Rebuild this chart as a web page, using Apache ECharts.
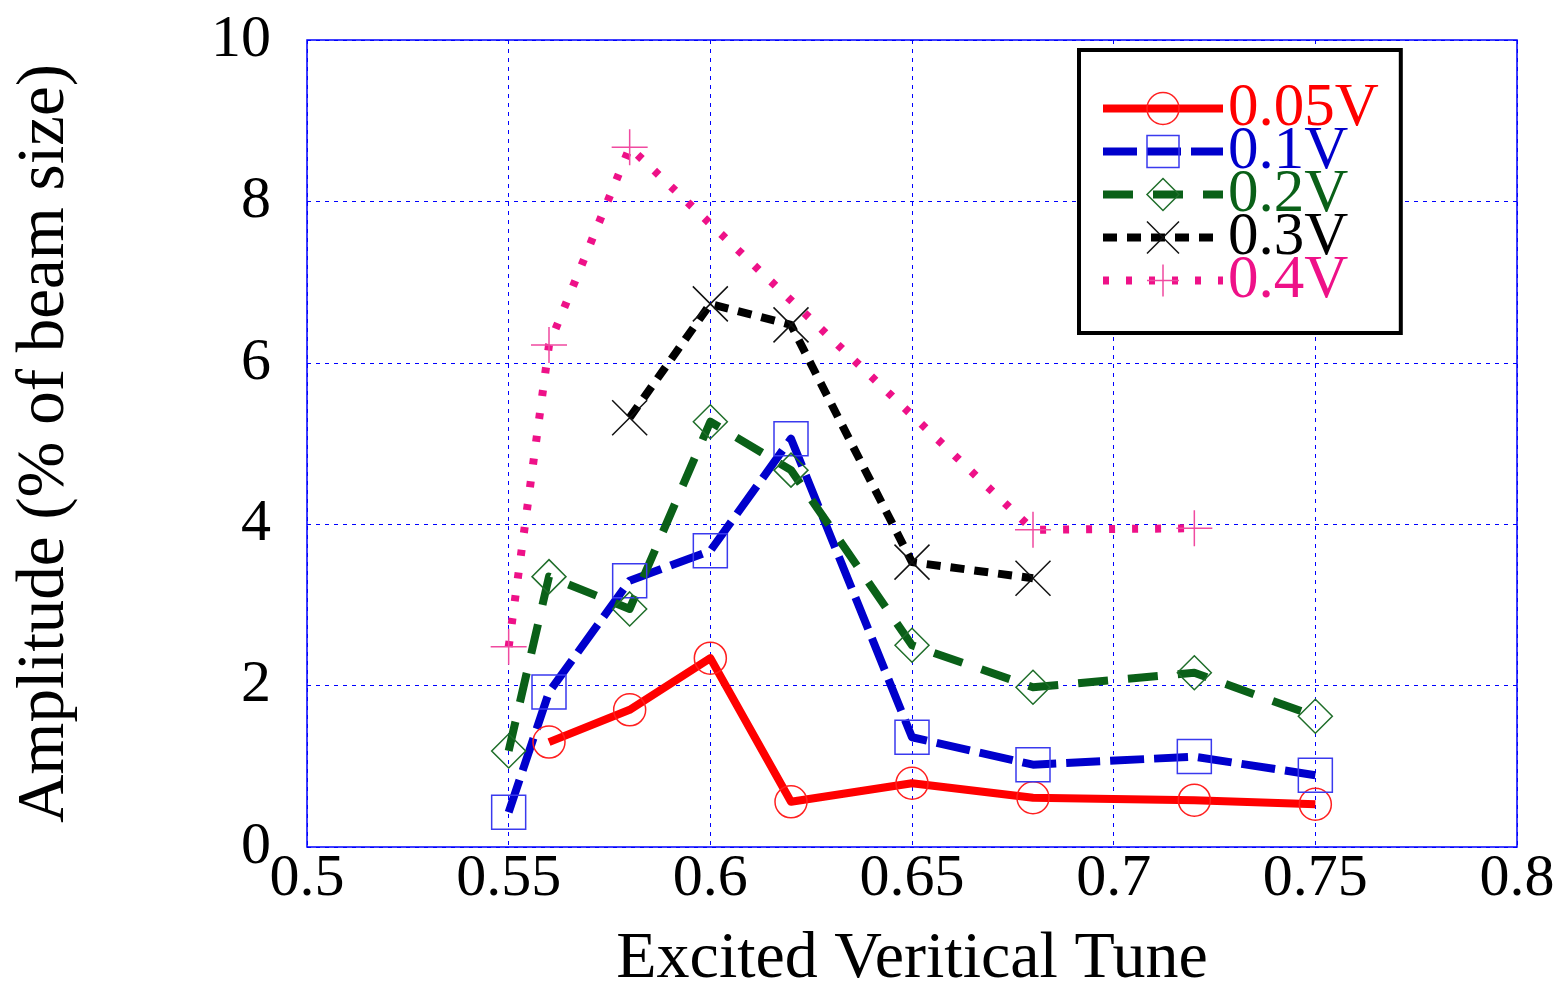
<!DOCTYPE html>
<html>
<head>
<meta charset="UTF-8">
<title>Amplitude vs Excited Vertical Tune</title>
<script src="https://cdn.jsdelivr.net/npm/echarts@6/dist/echarts.min.js"></script>
<style>
  html, body { margin: 0; padding: 0; background: #fff; }
  #main { width: 1563px; height: 985px; }
</style>
</head>
<body>
<div id="main"></div>
<script>
    // tunes and amplitudes
    let tune005 = [0.56, 0.58, 0.60, 0.62, 0.65, 0.68, 0.72, 0.75];
    let amp005  = [1.30, 1.70, 2.34, 0.56, 0.79, 0.61, 0.58, 0.53];

    let tune01 = [0.55, 0.56, 0.58, 0.60, 0.62, 0.65, 0.68, 0.72, 0.75];
    let amp01  = [0.43, 1.92, 3.30, 3.67, 5.06, 1.36, 1.02, 1.12, 0.89];

    let tune02 = [0.55, 0.56, 0.58, 0.60, 0.62, 0.65, 0.68, 0.72, 0.75];
    let amp02  = [1.19, 3.35, 2.95, 5.27, 4.67, 2.50, 1.98, 2.16, 1.62];

    let tune03 = [0.58, 0.60, 0.62, 0.65, 0.68];
    let amp03  = [5.32, 6.73, 6.47, 3.53, 3.33];

    let tune04 = [0.55, 0.56, 0.58, 0.68, 0.72];
    let amp04  = [2.48, 6.22, 8.67, 3.93, 3.95];

    let xTicks = { min: 0.5, max: 0.8, step: 0.05 };
    let yTicks = { min: 0, max: 10, step: 2 };

    function pairs(xs, ys) {
        return xs.map((x, i) => [x, ys[i]]);
    }

    let font = '"Liberation Serif", "DejaVu Serif", serif';
    let crossPath = 'path://M0,0L10,10M10,0L0,10';
    let plusPath = 'path://M5,0L5,10M0,5L10,5';

    let chart = echarts.init(document.getElementById('main'));

    let series = [
        {
            name: '0.05V', data: pairs(tune005, amp005),
            lineColor: '#ff0000', markColor: '#ff2020', dash: 'solid',
            symbol: 'circle', size: 32
        },
        {
            name: '0.1V', data: pairs(tune01, amp01),
            lineColor: '#0000cc', markColor: '#3a3aee', dash: [34, 10],
            symbol: 'rect', size: 34
        },
        {
            name: '0.2V', data: pairs(tune02, amp02),
            lineColor: '#0a6018', markColor: '#1f6e2a', dash: [30, 20],
            symbol: 'diamond', size: 34
        },
        {
            name: '0.3V', data: pairs(tune03, amp03),
            lineColor: '#000000', markColor: '#111111', dash: [14, 10],
            symbol: crossPath, size: 35
        },
        {
            name: '0.4V', data: pairs(tune04, amp04),
            lineColor: '#ee1188', markColor: '#f04aa0', dash: [6, 17],
            symbol: plusPath, size: 36
        }
    ];

    let option = {
        animation: false,
        backgroundColor: '#ffffff',
        grid: {
            left: 307, right: 46, top: 40, bottom: 138,
            outerBoundsMode: 'none',
            containLabel: false,
            show: true, borderColor: '#0000ff', borderWidth: 1.5
        },
        xAxis: {
            type: 'value',
            min: xTicks.min, max: xTicks.max, interval: xTicks.step,
            name: 'Excited Veritical Tune',
            nameLocation: 'middle',
            nameGap: 80,
            nameTextStyle: { fontFamily: font, fontSize: 66, color: '#000' },
            axisLine: { show: false },
            axisTick: { show: false },
            axisLabel: {
                fontFamily: font, fontSize: 60, color: '#000', margin: 2,
                formatter: v => String(+v.toFixed(2))
            },
            splitLine: { show: true, lineStyle: { color: '#0000ff', width: 1, type: [4, 5] } }
        },
        yAxis: {
            type: 'value',
            min: yTicks.min, max: yTicks.max, interval: yTicks.step,
            name: 'Amplitude (% of beam size)',
            nameLocation: 'middle',
            nameGap: 228,
            nameTextStyle: { fontFamily: font, fontSize: 67, color: '#000' },
            axisLine: { show: false },
            axisTick: { show: false },
            axisLabel: { fontFamily: font, fontSize: 60, color: '#000', margin: 36 },
            splitLine: { show: true, lineStyle: { color: '#0000ff', width: 1, type: [4, 5] } }
        },
        legend: {
            orient: 'vertical',
            left: 1079, top: 50,
            padding: [28, 22, 22, 20],
            borderColor: '#000', borderWidth: 4,
            backgroundColor: '#fff',
            itemWidth: 120, itemHeight: 40, itemGap: -18,
            lineStyle: { width: 8 },
            itemStyle: { borderWidth: 1.5 },
            textStyle: { fontFamily: font, fontSize: 61 },
            data: series.map(s => ({ name: s.name, textStyle: { color: s.lineColor } }))
        },
        series: series.map(s => ({
            type: 'line',
            name: s.name,
            data: s.data,
            symbol: s.symbol,
            symbolSize: s.size,
            showAllSymbol: true,
            lineStyle: { color: s.lineColor, width: 8, type: s.dash, cap: 'butt', join: 'round' },
            itemStyle: { color: 'transparent', borderColor: s.markColor, borderWidth: 1.5 },
            emphasis: { disabled: true }
        }))
    };

    chart.setOption(option);
</script>
</body>
</html>
